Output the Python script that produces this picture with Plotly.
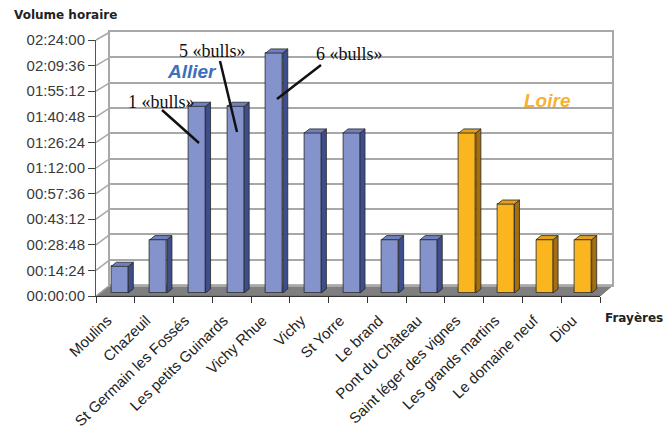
import plotly.graph_objects as go

# ---------------- data ----------------
categories = ["Moulins", "Chazeuil", "St Germain les Fossés", "Les petits Guinards",
              "Vichy Rhue", "Vichy", "St Yorre", "Le brand", "Pont du Château",
              "Saint léger des vignes", "Les grands martins", "Le domaine neuf", "Diou"]
minutes = [15, 30, 105, 105, 135, 90, 90, 30, 30, 90, 50, 30, 30]
river = ["Allier"] * 9 + ["Loire"] * 4
tick_labels = ["00:00:00", "00:14:24", "00:28:48", "00:43:12", "00:57:36", "01:12:00",
               "01:26:24", "01:40:48", "01:55:12", "02:09:36", "02:24:00"]


def to_min(s):
    h, m, sec = (int(v) for v in s.split(":"))
    return h * 60 + m + sec / 60


tick_vals = [to_min(t) for t in tick_labels]
ymax = tick_vals[-1]

# ---------------- geometry helpers ----------------
W, H = 672, 429


def px(x):
    return x / W


def py(y):
    return 1 - y / H


colors = {
    "Allier": dict(front="#8493CB", top="#6F80C2", side="#3E4D8B"),
    "Loire": dict(front="#FBB61F", top="#E4A11B", side="#A56E12"),
}
edge = "#262626"
bw = 0.44      # bar width (category units)
ddx = 0.13     # depth offset x (category units)
ddy = 2.3      # depth offset y (minutes)

fig = go.Figure()

# invisible traces to build the category axes (ticks / labels)
fig.add_trace(go.Scatter(x=categories, y=[0] * len(categories), mode="markers",
                         marker=dict(opacity=0), showlegend=False, hoverinfo="skip",
                         xaxis="x", yaxis="y"))
fig.add_trace(go.Scatter(x=categories, y=[0] * len(categories), mode="markers",
                         marker=dict(opacity=0), showlegend=False, hoverinfo="skip",
                         xaxis="x4", yaxis="y"))
# dummy for back wall
fig.add_trace(go.Scatter(x=[0], y=[0], mode="markers", marker=dict(opacity=0),
                         showlegend=False, hoverinfo="skip", xaxis="x2", yaxis="y2"))

for r in ["Allier", "Loire"]:
    idx = [i for i, rv in enumerate(river) if rv == r]
    xs = idx
    ys = [minutes[i] for i in idx]
    fig.add_trace(go.Bar(x=xs, y=ys, width=bw, marker=dict(color=colors[r]["front"],
                                                            line=dict(color=edge, width=0.8)),
                         name=r, showlegend=False, xaxis="x3", yaxis="y3",
                         hovertext=[categories[i] for i in idx]))
    sx, sy, tx, ty = [], [], [], []
    for i in idx:
        v = minutes[i]
        xr = i + bw / 2
        xl = i - bw / 2
        sx += [xr, xr + ddx, xr + ddx, xr, xr, None]
        sy += [0, ddy, v + ddy, v, 0, None]
        tx += [xl, xr, xr + ddx, xl + ddx, xl, None]
        ty += [v, v, v + ddy, v + ddy, v, None]
    fig.add_trace(go.Scatter(x=sx, y=sy, fill="toself", fillcolor=colors[r]["side"],
                             mode="lines", line=dict(color=edge, width=0.8),
                             showlegend=False, hoverinfo="skip", xaxis="x3", yaxis="y3"))
    fig.add_trace(go.Scatter(x=tx, y=ty, fill="toself", fillcolor=colors[r]["top"],
                             mode="lines", line=dict(color=edge, width=0.8),
                             showlegend=False, hoverinfo="skip", xaxis="x3", yaxis="y3"))

# ---------------- shapes ----------------
shapes = []
# floor
shapes.append(dict(type="path", xref="paper", yref="paper", layer="below",
                   path=f"M {px(96)},{py(296)} L {px(600)},{py(296)} L {px(613)},{py(285)} "
                        f"L {px(110)},{py(285)} Z",
                   fillcolor="#7F7F7F", line=dict(color="#6a6a6a", width=1)))
# left wall diagonals
for t in tick_vals:
    yf = py(296) + (py(40) - py(296)) * t / ymax
    yb = py(285) + (py(32) - py(285)) * t / ymax
    shapes.append(dict(type="line", xref="paper", yref="paper", layer="below",
                       x0=px(96), y0=yf, x1=px(110), y1=yb,
                       line=dict(color="#A8A8A8", width=1.5)))
# dark back-wall line
shapes.append(dict(type="line", xref="paper", yref="y2", layer="below",
                   x0=px(110), x1=px(612), y0=tick_vals[4], y1=tick_vals[4],
                   line=dict(color="#111111", width=1.5)))
# pointer lines for annotations
for (x0, y0, x1, y1) in [(162, 110, 199, 143), (220, 61, 237, 132), (321, 65, 277, 99)]:
    shapes.append(dict(type="line", xref="paper", yref="paper", layer="above",
                       x0=px(x0), y0=py(y0), x1=px(x1), y1=py(y1),
                       line=dict(color="#111111", width=2.5)))

# ---------------- annotations ----------------
ann = []


def text(x, y, s, size, color, family, bold=False, italic=False, xanchor="center"):
    if bold:
        s = f"<b>{s}</b>"
    if italic:
        s = f"<i>{s}</i>"
    ann.append(dict(x=px(x), y=py(y), xref="paper", yref="paper", text=s, showarrow=False,
                    xanchor=xanchor, yanchor="middle",
                    font=dict(size=size, color=color, family=family)))


text(12, 15, "Volume horaire", 12, "#222222", "DejaVu Sans", bold=True, xanchor="left")
text(603, 318, "Frayères", 12, "#222222", "DejaVu Sans", bold=True, xanchor="left")
text(192, 71, "Allier", 19, "#3C70BE", "Liberation Sans", bold=True, italic=True)
text(547, 100, "Loire", 19, "#F5B234", "Liberation Sans", bold=True, italic=True)
text(161, 102, "1 «bulls»", 18, "#111111", "Liberation Serif")
text(212, 51, "5 «bulls»", 18, "#111111", "Liberation Serif")
text(349, 54, "6 «bulls»", 18, "#111111", "Liberation Serif")

fig.update_layout(
    width=W, height=H, margin=dict(l=0, r=0, t=0, b=0, autoexpand=False),
    paper_bgcolor="white", plot_bgcolor="rgba(0,0,0,0)",
    showlegend=False, bargap=0,
    shapes=shapes, annotations=ann,
    xaxis=dict(domain=[px(96), px(600)], anchor="y", type="category",
               categoryorder="array", categoryarray=categories,
               range=[-0.5, len(categories) - 0.5], tickson="boundaries",
               ticks="outside", ticklen=6, tickcolor="#333333", tickwidth=1,
               showline=True, linecolor="#333333", linewidth=1,
               showticklabels=False,
               showgrid=False, zeroline=False, fixedrange=True, automargin=False),
    xaxis4=dict(domain=[px(88), px(592)], anchor="y", type="category",
                categoryorder="array", categoryarray=categories,
                range=[-0.5, len(categories) - 0.5], ticks="", showline=False,
                tickangle=-44, ticklabelstandoff=12,
                tickfont=dict(family="Liberation Sans, Arial", size=15, color="#222222"),
                showgrid=False, zeroline=False, fixedrange=True, automargin=False),
    yaxis=dict(domain=[py(296), py(40)], anchor="x", range=[0, ymax],
               tickvals=tick_vals, ticktext=tick_labels, ticks="outside", ticklen=7,
               tickcolor="#444444", showline=True, linecolor="#555555", linewidth=1,
               tickfont=dict(family="Liberation Sans, Arial", size=15, color="#3A3A3A"),
               showgrid=False, zeroline=False, fixedrange=True, automargin=False),
    xaxis2=dict(domain=[px(110), px(612)], anchor="y2", range=[0, 1],
                showticklabels=False, ticks="", showgrid=False, zeroline=False,
                showline=True, mirror=True, linecolor="#A8A8A8", linewidth=2,
                automargin=False),
    yaxis2=dict(domain=[py(285), py(32)], anchor="x2", range=[0, ymax],
                tickvals=tick_vals, showticklabels=False, ticks="",
                showgrid=True, gridcolor="#A8A8A8", gridwidth=2, zeroline=False,
                showline=True, mirror=True, linecolor="#A8A8A8", linewidth=2,
                automargin=False),
    xaxis3=dict(domain=[px(100.5), px(602.5)], anchor="y3",
                range=[-0.5, len(categories) - 0.5], visible=False, fixedrange=True),
    yaxis3=dict(domain=[py(293), py(37)], anchor="x3", range=[0, ymax],
                visible=False, fixedrange=True),
)

fig.write_html("out.html")
